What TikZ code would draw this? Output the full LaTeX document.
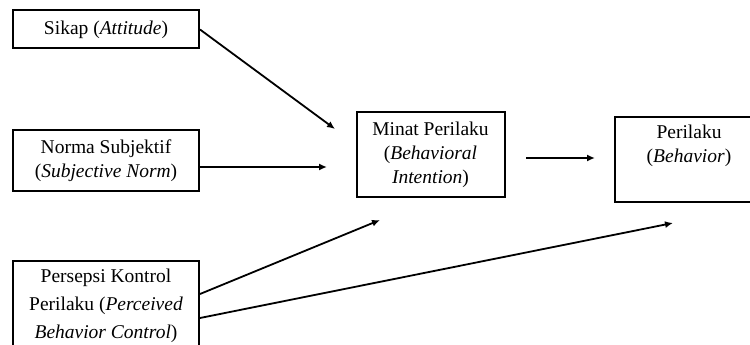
\documentclass[tikz,border=0pt]{standalone}
\usepackage{fontspec}
\setmainfont{Liberation Serif}
\usetikzlibrary{arrows.meta}

\begin{document}
\begin{tikzpicture}[x=1pt, y=-1pt,
  box/.style={draw, line width=2pt, inner sep=0pt, align=center,
    font=\fontsize{19.5}{24}\selectfont},
  link/.style={-{Latex[length=8pt,width=7pt]}, line width=1.8pt}]

\useasboundingbox (0,0) rectangle (750,345);
\clip (0,0) rectangle (750,345);

% Boxes on the left
\node[box, minimum width=186pt, minimum height=38pt] (sikap) at (106,29.5) {Sikap (\textit{Attitude})};
\node[box, minimum width=186pt, minimum height=61pt] (norma) at (106,160.5) {Norma Subjektif\\(\textit{Subjective Norm})};
\node[box, minimum width=186pt, minimum height=90pt, font=\fontsize{19.5}{28}\selectfont] (persepsi) at (106,306) {Persepsi Kontrol\\Perilaku (\textit{Perceived}\\\textit{Behavior Control})};

% Boxes on the right
\node[box, minimum width=148pt, minimum height=85pt] (minat) at (430.5,154.5) {Minat Perilaku\\(\textit{Behavioral}\\\textit{Intention})};
\node[box, minimum width=148pt, minimum height=85pt] (perilaku) at (689,159.5) {Perilaku\\(\textit{Behavior})\\\strut};

% Arrow tips
\coordinate (tipA) at (335,129);
\coordinate (tipB) at (327,167);
\coordinate (tipC) at (595,158);
\coordinate (tipD) at (380,220);
\coordinate (tipE) at (673,223);

% Arrows
\draw[link] (sikap.east) -- (tipA);
\draw[link] (norma.east |- tipB) -- (tipB);
\draw[link] (526,158) coordinate (tailC) -- (tipC);
\draw[link] ([yshift=12pt]persepsi.east) -- (tipD);
\draw[link] ([yshift=-12pt]persepsi.east) -- (tipE);

\end{tikzpicture}
\end{document}
